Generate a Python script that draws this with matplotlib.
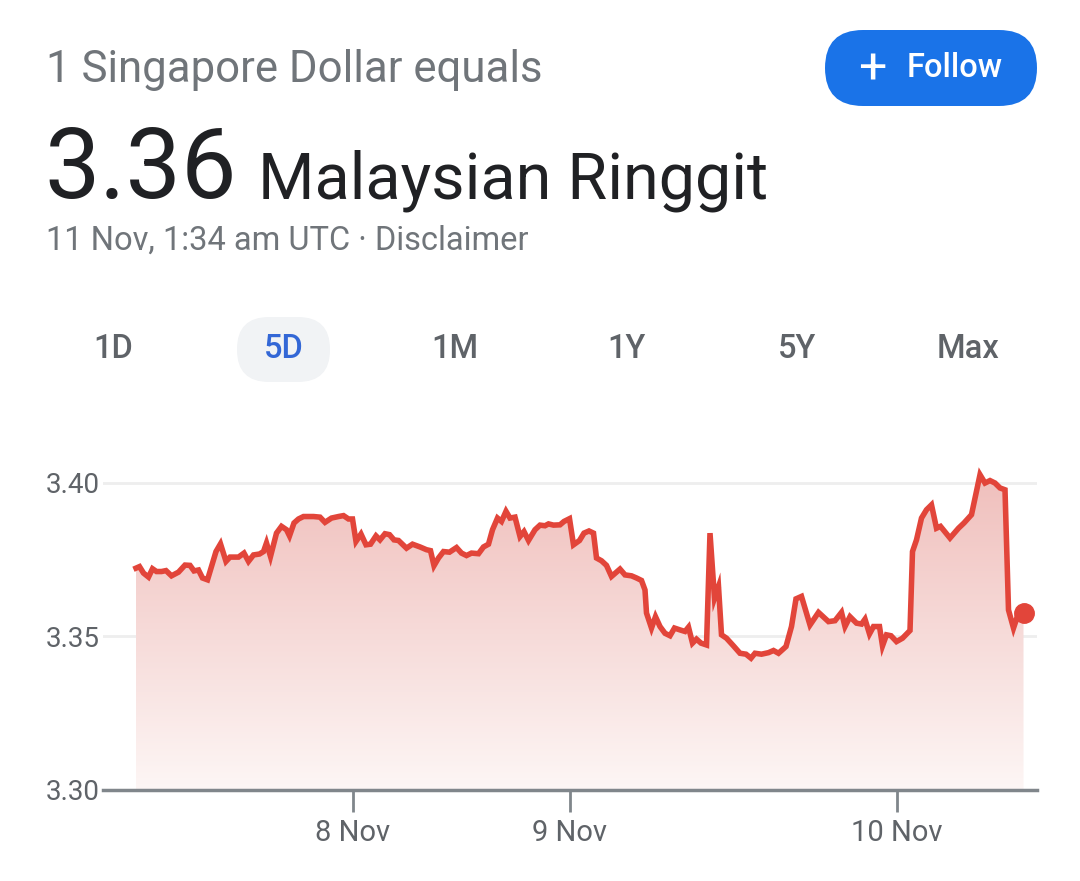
import matplotlib.pyplot as plt
import numpy as np
from matplotlib.patches import FancyBboxPatch
from matplotlib.colors import LinearSegmentedColormap

plt.rcParams['font.family'] = ['Roboto', 'DejaVu Sans']

# chart position (arbitrary session units) and SGD->MYR rate
t = [0.2, 0.9, 1.7, 2.7, 3.5, 4.3, 5.3, 6.2, 7.3, 8.7, 10, 11, 11.8, 12.7, 13.5, 14.5,
     16.2, 17.1, 18.2, 19, 20.7, 21.8, 22.7, 23.7, 24.9, 25.7, 26.3, 27.1, 28.3, 29.3,
     30.3, 30.9, 31.8, 32.7, 33.7, 35, 35.7, 37, 38, 39.3, 40.7, 41.7, 42.7, 43.5,
     44.2, 45.2, 46.2, 47.1, 48.2, 49, 50, 50.9, 51.8, 52.7, 54.3, 55.5, 57, 58.3,
     59.1, 59.8, 60.7, 61.7, 62.9, 64.3, 65.3, 66.3, 67.3, 68.7, 69.7, 70.7, 71.5,
     72.5, 73.3, 74.2, 75, 76, 77, 77.8, 78.7, 80, 81, 82, 82.7, 83.7, 85, 85.8,
     86.9, 87.7, 88.9, 89.8, 90.8, 91.7, 92.3, 93.3, 94.3, 95.3, 97, 98, 99.3, 100.3,
     101.3, 102, 102.3, 103.3, 104.1, 105, 106, 107, 107.9, 109, 110, 110.7, 111.5,
     112.3, 113.2, 114.3, 115, 115.9, 116.7, 117.3, 118.3, 119.7, 121, 122.2, 123.2,
     124, 125.3, 126.7, 127.7, 128.7, 130.2, 131.3, 132.2, 133.3, 135, 136.7, 138.7,
     140, 141.3, 142, 143, 144.3, 145.3, 146, 146.9, 147.7, 148.9, 149.5, 150.3,
     151.2, 152.3, 153.5, 155, 155.5, 156.3, 157.3, 158.3, 159.3, 160.3, 161.1, 163,
     164.7, 165.8, 167.3, 169, 170, 171, 172, 173, 174, 174.7, 175.7, 176.7, 177.7]
rate = [3.3722, 3.3727, 3.3706, 3.3693, 3.3720, 3.3711, 3.3711, 3.3714, 3.3697, 3.3709,
        3.3732, 3.3731, 3.3713, 3.3716, 3.3690, 3.3684, 3.3776, 3.3801, 3.3744, 3.3758,
        3.3758, 3.3771, 3.3744, 3.3765, 3.3768, 3.3776, 3.3804, 3.3760, 3.3836, 3.3858,
        3.3847, 3.3827, 3.3869, 3.3882, 3.3890, 3.3890, 3.3890, 3.3888, 3.3871, 3.3885,
        3.3890, 3.3893, 3.3882, 3.3882, 3.3809, 3.3833, 3.3798, 3.3800, 3.3827, 3.3814,
        3.3834, 3.3831, 3.3814, 3.3812, 3.3787, 3.3800, 3.3791, 3.3782, 3.3779, 3.3730,
        3.3755, 3.3776, 3.3774, 3.3789, 3.3771, 3.3763, 3.3771, 3.3769, 3.3791, 3.3800,
        3.3847, 3.3885, 3.3874, 3.3907, 3.3885, 3.3888, 3.3825, 3.3841, 3.3812, 3.3847,
        3.3862, 3.3860, 3.3866, 3.3862, 3.3863, 3.3874, 3.3883, 3.3798, 3.3812, 3.3836,
        3.3843, 3.3836, 3.3755, 3.3746, 3.3731, 3.3695, 3.3719, 3.3700, 3.3697, 3.3690,
        3.3682, 3.3651, 3.3576, 3.3527, 3.3564, 3.3532, 3.3510, 3.3502, 3.3527, 3.3521,
        3.3516, 3.3530, 3.3478, 3.3491, 3.3478, 3.3472, 3.3836, 3.3624, 3.3662, 3.3505,
        3.3494, 3.3469, 3.3445, 3.3442, 3.3429, 3.3445, 3.3442, 3.3447, 3.3454, 3.3445,
        3.3467, 3.3532, 3.3622, 3.3630, 3.3537, 3.3578, 3.3548, 3.3551, 3.3578, 3.3532,
        3.3564, 3.3543, 3.3540, 3.3556, 3.3508, 3.3532, 3.3532, 3.3469, 3.3505, 3.3502,
        3.3483, 3.3494, 3.3519, 3.3776, 3.3814, 3.3885, 3.3912, 3.3928, 3.3852, 3.3858,
        3.3820, 3.3852, 3.3869, 3.3896, 3.4026, 3.3999, 3.4007, 3.3999, 3.3983, 3.3977,
        3.3586, 3.3527, 3.3576, 3.3576]

day_pos = [43.6, 87, 152.4]
day_labels = ["8 Nov", "9 Nov", "10 Nov"]
y_ticks = [3.30, 3.35, 3.40]
tabs = ["1D", "5D", "1M", "1Y", "5Y", "Max"]

W, H = 1080, 881
fig = plt.figure(figsize=(W / 100, H / 100), dpi=100)
fig.patch.set_facecolor("white")

red = "#e2453a"
grey = "#70757a"

# header texts
fig.text(46 / W, 1 - 70 / H, "1 Singapore Dollar equals", fontsize=31.5, color=grey, va="center")
fig.text(44 / W, 1 - 198 / H, "3.36", fontsize=71, color="#202124", va="baseline")
fig.text(258 / W, 1 - 198 / H, "Malaysian Ringgit", fontsize=46.5, color="#202124", va="baseline")
fig.text(46 / W, 1 - 241 / H, "11 Nov, 1:34 am UTC \u00b7 Disclaimer", fontsize=23.5, color=grey, va="center")

# background shapes: follow button and selected tab
bax = fig.add_axes([0, 0, 1, 1], zorder=-1)
bax.set_xlim(0, W)
bax.set_ylim(H, 0)
bax.axis("off")
bax.add_patch(FancyBboxPatch((825, 30), 212, 76, boxstyle="round,pad=0,rounding_size=38",
                             fc="#1a73e8", ec="none"))
bax.add_patch(FancyBboxPatch((237, 317), 93, 65, boxstyle="round,pad=0,rounding_size=32",
                             fc="#f1f3f5", ec="none"))
fig.text(872 / W, 1 - 69 / H, "+", fontsize=36, color="white", ha="center", va="center")
fig.text(955 / W, 1 - 68 / H, "Follow", fontsize=23.5, color="white", ha="center", va="center",
         fontweight="medium")

# range tabs
for i, lab in enumerate(tabs):
    x = 113 + i * 171
    col = "#3367d6" if lab == "5D" else "#5f6368"
    fig.text(x / W, 1 - 349 / H, lab, fontsize=23.5, color=col, ha="center", va="center",
             fontweight="medium")

# chart
ax = fig.add_axes([103 / W, 1 - 790 / H, (1037 - 103) / W, (790 - 452) / H])
ax.set_xlim(-6.4, 180.4)
ax.set_ylim(3.30, 3.41)

poly = ax.fill_between(t, rate, 3.30, color="none", lw=0)
grad = np.linspace(0, 1, 256).reshape(-1, 1)
cmap = LinearSegmentedColormap.from_list("g", ["#fdf6f5", "#f0bfbc"])
img = ax.imshow(grad, extent=[t[0], t[-1], 3.30, 3.403], origin="lower", aspect="auto",
                cmap=cmap, zorder=1)
img.set_clip_path(poly.get_paths()[0], transform=ax.transData)

ax.plot(t, rate, color=red, lw=4, solid_joinstyle="miter", zorder=3)
ax.plot(t[-1], rate[-1], "o", color=red, ms=14, zorder=4)

for y in y_ticks[1:]:
    ax.axhline(y, color="#eeeeee", lw=2, zorder=0)

for s in ["top", "right", "left"]:
    ax.spines[s].set_visible(False)
ax.spines["bottom"].set_color("#80868b")
ax.spines["bottom"].set_linewidth(2.5)
ax.set_yticks(y_ticks)
ax.set_yticklabels(["%.2f" % v for v in y_ticks], fontsize=20, color="#5f6368")
ax.tick_params(axis="y", length=0, pad=2)
ax.set_xticks(day_pos)
ax.set_xticklabels(day_labels, fontsize=21, color="#5f6368")
ax.tick_params(axis="x", length=16, width=2, color="#80868b", pad=5)
ax.set_facecolor("none")

fig.savefig("out.png", dpi=100)
